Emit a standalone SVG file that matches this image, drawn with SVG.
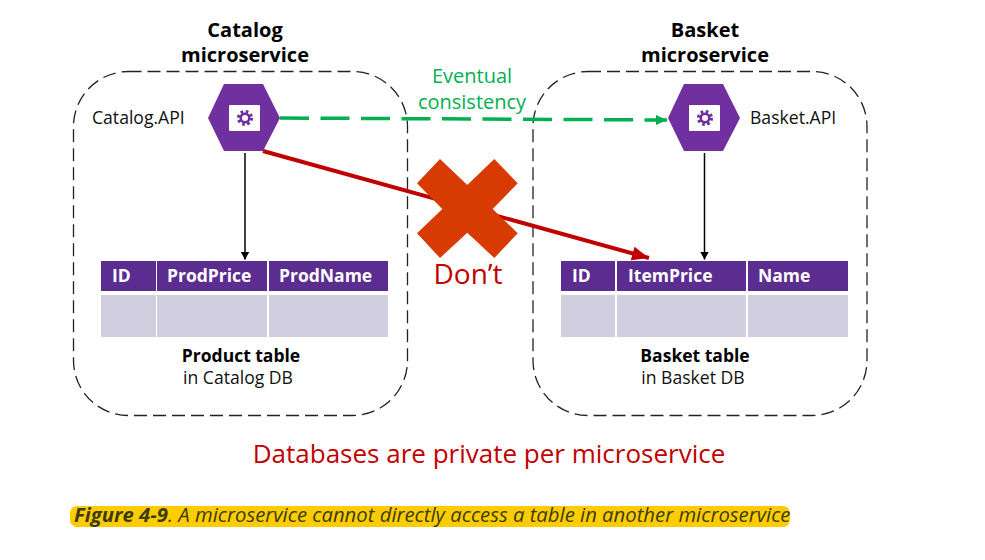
<svg xmlns="http://www.w3.org/2000/svg" width="985" height="560" viewBox="0 0 985 560">
<style>
text{font-family:"Open Sans","Noto Sans","Liberation Sans",sans-serif;fill:#111}
.title{font-size:20px;font-weight:700;fill:#000;text-anchor:middle}
.api{font-size:17.6px}
.hdr{font-size:17.5px;font-weight:700;fill:#fff}
.cap{font-size:17.6px;text-anchor:middle}
.capb{font-size:17.5px;font-weight:700;text-anchor:middle;fill:#000}
.red{fill:#c00000;text-anchor:middle}
.box{fill:none;stroke:#222;stroke-width:1.3;stroke-dasharray:13 6}
.h{fill:#5c2d91}.b{fill:#d1cfdf}
.hex{fill:#7030a0}
</style>
<defs>
<marker id="ab" markerUnits="userSpaceOnUse" markerWidth="10" markerHeight="10" refX="8" refY="5" orient="auto"><path d="M0 0.5L8 5L0 9.500Z" fill="#000"/></marker>
<marker id="ag" markerUnits="userSpaceOnUse" markerWidth="12" markerHeight="12" refX="11" refY="6" orient="auto"><path d="M0 1L11 6L0 11Z" fill="#00b050"/></marker>
<marker id="ar" markerUnits="userSpaceOnUse" markerWidth="18" markerHeight="18" refX="17" refY="9" orient="auto"><path d="M0 2L17 9L0 16Z" fill="#c00000"/></marker>
<g id="gear"><circle r="6.500" fill="none" stroke="#7030a0" stroke-width="4" stroke-dasharray="2.600 2.500" transform="scale(.95)"/><circle r="4.300" fill="none" stroke="#7030a0" stroke-width="2.600"/></g>
</defs>

<g id="catalog-boundary"><rect class="box" x="73.500" y="71.500" width="334" height="344" rx="55"/></g>
<g id="basket-boundary"><rect class="box" x="533" y="71.500" width="334" height="344" rx="55"/></g>

<g id="connectors" fill="none">
<line x1="245" y1="153" x2="245" y2="259.500" stroke="#000" stroke-width="1.500" marker-end="url(#ab)"/>
<line x1="704.500" y1="153" x2="704.500" y2="259.500" stroke="#000" stroke-width="1.500" marker-end="url(#ab)"/>
<line x1="280" y1="118" x2="667" y2="120" stroke="#00b050" stroke-width="3.500" stroke-dasharray="29 11.500" marker-end="url(#ag)"/>
<line x1="263" y1="151" x2="649" y2="258" stroke="#c00000" stroke-width="4" marker-end="url(#ar)"/>
</g>

<g id="cross"><polygon fill="#d83b01" points="440,159 467.300,185 494.300,159 517.700,183.300 492.700,209 517.700,233.300 494.300,258 467.300,232.700 440,258 417,233.300 442.300,209 417,183.300"/></g>
<g id="dont"><text class="red" x="468" y="284" font-size="28">Don’t</text></g>
<g id="eventual"><text x="472" y="83" font-size="20" text-anchor="middle" style="fill:#00b050">Eventual</text><text x="472" y="109" font-size="20" text-anchor="middle" style="fill:#00b050">consistency</text></g>

<g id="catalog-title"><text class="title" x="245" y="37">Catalog</text><text class="title" x="245" y="62">microservice</text></g>
<g id="basket-title"><text class="title" x="705" y="37">Basket</text><text class="title" x="705" y="62">microservice</text></g>

<g id="catalog-api">
<polygon class="hex" points="224,84 263,84 280,118 263,151 224,151 208,118"/>
<rect x="229" y="105" width="31" height="26" rx="1" fill="#fff"/>
<use href="#gear" x="245" y="118"/>
<text class="api" x="92" y="124">Catalog.API</text>
</g>
<g id="basket-api">
<polygon class="hex" points="684,84 723,84 740,118 723,151 684,151 668,118"/>
<rect x="689" y="105" width="31" height="26" rx="1" fill="#fff"/>
<use href="#gear" x="705" y="118"/>
<text class="api" x="750" y="124" font-size="17">Basket.API</text>
</g>

<g id="product-table">
<rect class="h" x="101" y="261" width="55" height="30"/><rect class="h" x="157" y="261" width="110" height="30"/><rect class="h" x="269" y="261" width="119" height="30"/>
<rect class="b" x="101" y="295" width="55" height="42"/><rect class="b" x="157" y="295" width="110" height="42"/><rect class="b" x="269" y="295" width="119" height="42"/>
<text class="hdr" x="112" y="282">ID</text><text class="hdr" x="167" y="282">ProdPrice</text><text class="hdr" x="279" y="282">ProdName</text>
<text class="capb" x="241" y="362">Product table</text><text class="cap" x="238" y="384">in Catalog DB</text>
</g>
<g id="basket-table">
<rect class="h" x="561" y="261" width="54" height="30"/><rect class="h" x="617" y="261" width="129" height="30"/><rect class="h" x="748" y="261" width="100" height="30"/>
<rect class="b" x="561" y="295" width="54" height="42"/><rect class="b" x="617" y="295" width="129" height="42"/><rect class="b" x="748" y="295" width="100" height="42"/>
<text class="hdr" x="572" y="282">ID</text><text class="hdr" x="628" y="282">ItemPrice</text><text class="hdr" x="758" y="282">Name</text>
<text class="capb" x="695" y="362">Basket table</text><text class="cap" x="693" y="384">in Basket DB</text>
</g>

<g id="private-note"><text class="red" x="489" y="463" font-size="26">Databases are private per microservice</text></g>
<g id="caption">
<rect x="70" y="506" width="720" height="21" rx="7" fill="#ffcc00"/>
<text x="74" y="522" font-size="20.3" font-style="italic" style="fill:#3c3c10"><tspan font-weight="700">Figure 4-9</tspan>. A microservice cannot directly access a table in another microservice</text>
</g>
</svg>
